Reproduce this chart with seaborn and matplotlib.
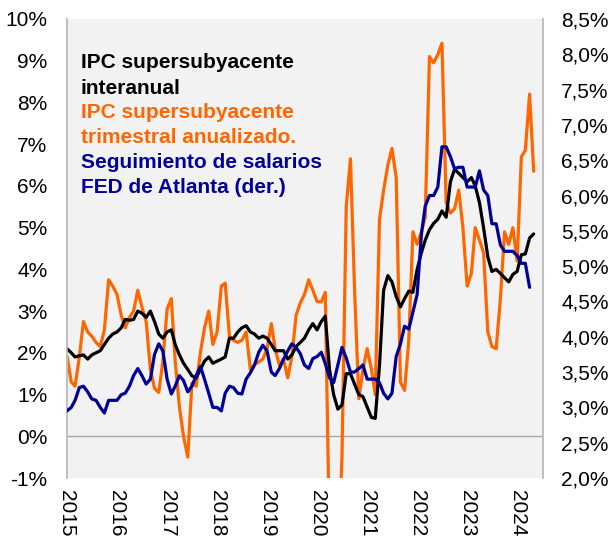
import pandas as pd
import matplotlib
matplotlib.use("Agg")
import matplotlib.pyplot as plt
import matplotlib.dates as mdates
from matplotlib.ticker import FixedLocator, FuncFormatter
import seaborn as sns

sns.set_theme(style="white")
plt.rcParams["font.family"] = ["Liberation Sans", "DejaVu Sans"]

# Colors
ORANGE = "#FF6600"
NAVY = "#000099"
BLACK = "#000000"
GRID = "#A6A6A6"
BG = "#F2F2F2"

# IPC supersubyacente interanual (%), monthly from Jan 2015
supercore_yoy = [
    2.1, 2.0, 1.9, 1.93, 1.95, 1.85, 1.95, 2.0, 2.05, 2.2, 2.35, 2.45,   # 2015
    2.5, 2.6, 2.8, 2.78, 2.8, 3.0, 2.95, 2.85, 3.0, 2.75, 2.45, 2.35,    # 2016
    2.5, 2.55, 2.2, 1.95, 1.75, 1.6, 1.45, 1.4, 1.6, 1.8, 1.9, 1.75,     # 2017
    1.8, 1.85, 1.9, 2.35, 2.35, 2.5, 2.6, 2.65, 2.5, 2.45, 2.35, 2.4,    # 2018
    2.35, 2.2, 2.05, 2.05, 2.05, 1.85, 1.95, 2.15, 2.25, 2.35, 2.55, 2.7,  # 2019
    2.55, 2.75, 2.88, 1.6, 1.0, 0.65, 0.75, 1.5, 1.5, 1.25, 1.0, 0.95,   # 2020
    0.7, 0.45, 0.43, 1.7, 3.5, 3.85, 3.7, 3.35, 3.1, 3.3, 3.48, 3.45,    # 2021
    4.0, 4.4, 4.7, 4.95, 5.1, 5.2, 5.4, 5.25, 6.1, 6.4, 6.3, 6.2,        # 2022
    6.1, 6.2, 6.0, 5.6, 5.0, 4.3, 3.95, 4.0, 3.9, 3.8, 3.7, 3.88,        # 2023
    3.95, 4.35, 4.37, 4.75, 4.85,                                        # 2024
]

# IPC supersubyacente trimestral anualizado (%)
supercore_3m = [
    1.92, 1.3, 1.2, 1.9, 2.75, 2.5, 2.4, 2.25, 2.15, 2.55, 3.75, 3.6,    # 2015
    3.4, 2.9, 2.6, 2.85, 3.0, 3.5, 3.1, 2.75, 1.6, 1.15, 1.05, 1.8,      # 2016
    3.05, 3.3, 1.8, 0.7, 0.0, -0.5, 1.27, 1.2, 2.0, 2.6, 3.0, 2.2,       # 2017
    2.5, 3.6, 3.67, 2.4, 2.3, 2.25, 2.3, 2.5, 1.6, 1.72, 1.78, 1.85,     # 2018
    2.1, 2.7, 2.1, 1.7, 1.85, 1.4, 1.9, 2.9, 3.2, 3.4, 3.75, 3.5,        # 2019
    3.23, 3.22, 3.45, -2.5, -4.0, -3.0, -0.5, 5.5, 6.65, 3.5, 0.9, 1.6,  # 2020
    2.1, 1.6, 1.0, 5.2, 5.9, 6.5, 6.9, 6.2, 1.3, 1.1, 2.3, 4.9,          # 2021
    4.6, 4.9, 5.25, 9.1, 8.95, 9.15, 9.42, 5.6, 5.35, 5.45, 5.9, 5.0,    # 2022
    3.6, 3.9, 5.0, 4.7, 4.4, 2.5, 2.15, 2.1, 3.3, 4.9, 4.6, 5.0,         # 2023
    4.2, 6.7, 6.85, 8.2, 6.35,                                           # 2024
]

# Seguimiento de salarios FED de Atlanta (%), right axis
wage_tracker = [
    2.95, 3.0, 3.1, 3.28, 3.3, 3.22, 3.12, 3.1, 3.0, 2.92, 3.1, 3.1,     # 2015
    3.1, 3.18, 3.2, 3.3, 3.45, 3.55, 3.45, 3.33, 3.4, 3.75, 3.9, 3.8,    # 2016
    3.4, 3.19, 3.3, 3.45, 3.38, 3.22, 3.3, 3.45, 3.58, 3.4, 3.2, 3.0,    # 2017
    3.0, 2.95, 3.2, 3.3, 3.28, 3.2, 3.19, 3.4, 3.49, 3.6, 3.78, 3.88,    # 2018
    3.8, 3.5, 3.45, 3.55, 3.68, 3.8, 3.9, 3.85, 3.76, 3.6, 3.55, 3.69,   # 2019
    3.72, 3.78, 3.62, 3.42, 3.35, 3.6, 3.85, 3.7, 3.5, 3.5, 3.55, 3.6,   # 2020
    3.4, 3.4, 3.4, 3.35, 3.2, 3.12, 3.2, 3.72, 3.9, 4.15, 4.11, 4.35,    # 2021
    4.6, 5.45, 5.85, 6.0, 6.0, 6.12, 6.69, 6.69, 6.55, 6.38, 6.4, 6.4,   # 2022
    6.12, 6.12, 6.12, 6.35, 6.08, 6.0, 5.6, 5.6, 5.3, 5.21, 5.21, 5.21,  # 2023
    5.15, 5.04, 5.04, 4.7,                                               # 2024
]

df_cpi = pd.DataFrame({
    "fecha": pd.date_range("2015-01-01", periods=len(supercore_yoy), freq="MS"),
    "interanual": supercore_yoy,
    "trimestral": supercore_3m,
})
df_wage = pd.DataFrame({
    "fecha": pd.date_range("2015-01-01", periods=len(wage_tracker), freq="MS"),
    "salarios": wage_tracker,
})

fig = plt.figure(figsize=(6.12, 5.38), dpi=100)
ax = fig.add_axes([67 / 612, 1 - 478 / 538, 476 / 612, 459 / 538])
ax.set_facecolor(BG)

ax.axhline(0, color=GRID, lw=1.0, zorder=1)
sns.lineplot(data=df_cpi, x="fecha", y="trimestral", color=ORANGE, lw=2.3, ax=ax, zorder=2)
sns.lineplot(data=df_cpi, x="fecha", y="interanual", color=BLACK, lw=2.3, ax=ax, zorder=4)

ax2 = ax.twinx()
sns.lineplot(data=df_wage, x="fecha", y="salarios", color=NAVY, lw=2.3, ax=ax2, zorder=3)

ax.set_xlim(pd.Timestamp("2015-01-01"), pd.Timestamp("2024-07-08"))
ax.set_ylim(-1, 10)
ax2.set_ylim(2.0, 8.5)

ax.yaxis.set_major_locator(FixedLocator(range(-1, 11)))
ax.yaxis.set_major_formatter(FuncFormatter(lambda v, _: f"{v:.0f}%"))
ax2.yaxis.set_major_locator(FixedLocator([2.0 + 0.5 * i for i in range(14)]))
ax2.yaxis.set_major_formatter(FuncFormatter(lambda v, _: f"{v:.1f}%".replace(".", ",")))

ax.xaxis.set_major_locator(mdates.YearLocator())
ax.xaxis.set_major_formatter(mdates.DateFormatter("%Y"))

ax.tick_params(axis="y", length=0, pad=14, labelsize=15, labelcolor="black")
ax2.tick_params(axis="y", length=0, pad=13, labelsize=15, labelcolor="black")
ax.tick_params(axis="x", length=0, pad=9, labelsize=15, labelcolor="black", labelrotation=-90)

ax.set_xlabel("")
ax.set_ylabel("")
ax2.set_ylabel("")

for a in (ax, ax2):
    a.spines["top"].set_visible(False)
    a.spines["bottom"].set_visible(False)
    a.spines["left"].set_color("#BFBFBF")
    a.spines["right"].set_color("#BFBFBF")
    a.spines["left"].set_linewidth(1.2)
    a.spines["right"].set_linewidth(1.2)
    a.grid(False)

# Legend written as coloured text lines
legend_lines = [
    ("IPC supersubyacente", BLACK),
    ("interanual", BLACK),
    ("IPC supersubyacente", ORANGE),
    ("trimestral anualizado.", ORANGE),
    ("Seguimiento de salarios", NAVY),
    ("FED de Atlanta (der.)", NAVY),
]
baselines = [68, 94, 118, 143, 168, 193]
for (txt, col), base in zip(legend_lines, baselines):
    ax.text((81 - 67) / 476, (478 - base) / 459, txt, color=col, fontsize=15,
            fontweight="bold", va="baseline", ha="left", transform=ax.transAxes, zorder=6)

fig.savefig("out.png", dpi=100)
